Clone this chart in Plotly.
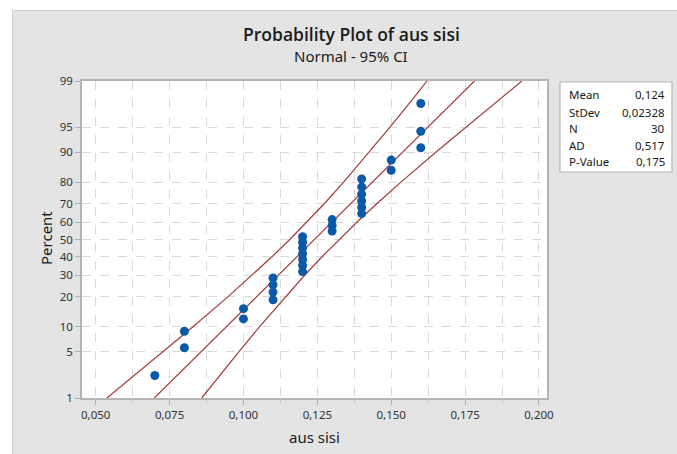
import plotly.graph_objects as go
from statistics import NormalDist

# ---- data ----
x_values = [0.07,
            0.08, 0.08,
            0.10, 0.10,
            0.11, 0.11, 0.11, 0.11,
            0.12, 0.12, 0.12, 0.12, 0.12, 0.12, 0.12,
            0.13, 0.13, 0.13,
            0.14, 0.14, 0.14, 0.14, 0.14, 0.14,
            0.15, 0.15,
            0.16, 0.16, 0.16]
pct_values = [2.3, 5.6, 8.9, 12.2, 15.5, 18.8, 22.0, 25.3, 28.6, 31.9,
              35.2, 38.5, 41.8, 45.1, 48.4, 51.6, 54.9, 58.2, 61.5, 64.8,
              68.1, 71.4, 74.7, 78.0, 81.3, 84.5, 87.8, 91.1, 94.4, 97.7]

# fitted line and 95% confidence band (x at percent levels)
band_pct = [1, 2, 5, 10, 20, 30, 40, 50, 60, 70, 80, 90, 95, 98, 99]
band_lower = [0.05380, 0.06150, 0.07293, 0.08292, 0.09472, 0.10291, 0.10964, 0.11567,
              0.12143, 0.12733, 0.13390, 0.14260, 0.14951, 0.15712, 0.16212]
band_fit = [0.06984, 0.07619, 0.08571, 0.09416, 0.10441, 0.11179, 0.11810, 0.12400,
            0.12990, 0.13621, 0.14359, 0.15384, 0.16229, 0.17181, 0.17816]
band_upper = [0.08588, 0.09088, 0.09849, 0.10540, 0.11410, 0.12068, 0.12657, 0.13233,
              0.13836, 0.14510, 0.15328, 0.16508, 0.17507, 0.18650, 0.19420]

y_tick_pct = [1, 5, 10, 20, 30, 40, 50, 60, 70, 80, 90, 95, 99]
x_tick_vals = [0.050, 0.075, 0.100, 0.125, 0.150, 0.175, 0.200]
x_tick_text = ["0,050", "0,075", "0,100", "0,125", "0,150", "0,175", "0,200"]

stat_labels = ["Mean", "StDev", "N", "AD", "P-Value"]
stat_values = ["0,124", "0,02328", "30", "0,517", "0,175"]

# ---- probability scale ----
nd = NormalDist()
def z(p):
    return nd.inv_cdf(p / 100.0)

FONT = "Noto Sans, Open Sans, sans-serif"
TXT = "#1f1f1f"
LINE_RED = "#a63a3a"
GRID = "#d9d9d9"

fig = go.Figure()
for xs in (band_lower, band_fit, band_upper):
    fig.add_trace(go.Scatter(x=xs, y=[z(p) for p in band_pct], mode="lines",
                             line=dict(color=LINE_RED, width=1.2), hoverinfo="skip"))
fig.add_trace(go.Scatter(x=x_values, y=[z(p) for p in pct_values], mode="markers",
                         marker=dict(color="#0b5aa8", size=9, line=dict(width=0))))

W, H = 677, 454
L, R, T, B = 82, 130, 81, 56
pw, ph = W - L - R, H - T - B

def px(xp):
    return (xp - L) / pw
def py(yp):
    return 1 - (yp - T) / ph

fig.update_layout(
    width=W, height=H,
    margin=dict(l=L, r=R, t=T, b=B, pad=0),
    paper_bgcolor="#e4e4e4", plot_bgcolor="white",
    showlegend=False,
    font=dict(family=FONT, color=TXT, size=12),
    xaxis=dict(range=[0.04536, 0.20271], tickvals=x_tick_vals, ticktext=x_tick_text,
               ticks="outside", ticklen=5, tickcolor="#b0b0b0", tickfont=dict(size=11.5, color="#333"),
               showline=True, linecolor="#b4b4b4", linewidth=1.5, mirror=True,
               showgrid=True, gridcolor=GRID, griddash="dash", gridwidth=1, zeroline=False,
               minor=dict(tick0=0.0625, dtick=0.025, ticks="outside", ticklen=3, tickcolor="#c8c8c8",
                          showgrid=True, gridcolor=GRID, griddash="dash")),
    yaxis=dict(range=[z(1), z(99)], tickvals=[z(p) for p in y_tick_pct],
               ticktext=[str(p) for p in y_tick_pct],
               ticks="outside", ticklen=5, tickcolor="#b0b0b0", tickfont=dict(size=11.5, color="#333"),
               showline=True, linecolor="#b4b4b4", linewidth=1.5, mirror=True,
               showgrid=True, gridcolor=GRID, griddash="dash", gridwidth=1, zeroline=False),
)

shapes = [
    # white outer strips (top and left)
    dict(type="rect", xref="paper", yref="paper", x0=px(-5), x1=px(W + 5), y0=py(10), y1=py(-5),
         fillcolor="white", line=dict(width=0), layer="below"),
    dict(type="rect", xref="paper", yref="paper", x0=px(-5), x1=px(12), y0=py(H + 5), y1=py(-5),
         fillcolor="white", line=dict(width=0), layer="below"),
    dict(type="line", xref="paper", yref="paper", x0=px(12), x1=px(W + 5), y0=py(10.5), y1=py(10.5),
         line=dict(color="#cfcfcf", width=1), layer="below"),
    dict(type="line", xref="paper", yref="paper", x0=px(12.5), x1=px(12.5), y0=py(10), y1=py(H + 5),
         line=dict(color="#cfcfcf", width=1), layer="below"),
    # stats box
    dict(type="rect", xref="paper", yref="paper", x0=px(560), x1=px(672), y0=py(172), y1=py(82),
         fillcolor="white", line=dict(color="#b4b4b4", width=1.2)),
]
fig.update_layout(shapes=shapes)

ann = [
    dict(text="Probability Plot of aus sisi", x=px(351), y=py(34),
         font=dict(size=17.5, color="#1a1a1a", weight=600, family="Open Sans, Noto Sans, sans-serif")),
    dict(text="Normal - 95% CI", x=px(351), y=py(56), font=dict(size=15, color="#1a1a1a")),
    dict(text="Percent", x=px(46), y=py(238), textangle=-90, font=dict(size=15, color="#1a1a1a")),
    dict(text="aus sisi", x=px(314), y=py(437), font=dict(size=15, color="#1a1a1a")),
]
for a in ann:
    a.update(xref="paper", yref="paper", showarrow=False, xanchor="center", yanchor="middle")
    fig.add_annotation(**a)

row_y = [95, 112, 128.5, 145, 161.5]
for lab, val, yy in zip(stat_labels, stat_values, row_y):
    fig.add_annotation(text=lab, x=px(567), y=py(yy), xref="paper", yref="paper", showarrow=False,
                       xanchor="left", yanchor="middle", font=dict(size=11.5, color="#1a1a1a"))
    fig.add_annotation(text=val, x=px(667), y=py(yy), xref="paper", yref="paper", showarrow=False,
                       xanchor="right", yanchor="middle", font=dict(size=11.5, color="#1a1a1a"))

fig.write_html("out.html", config={"displayModeBar": False},
               post_script="document.body.style.margin='0';document.body.style.padding='0';")
